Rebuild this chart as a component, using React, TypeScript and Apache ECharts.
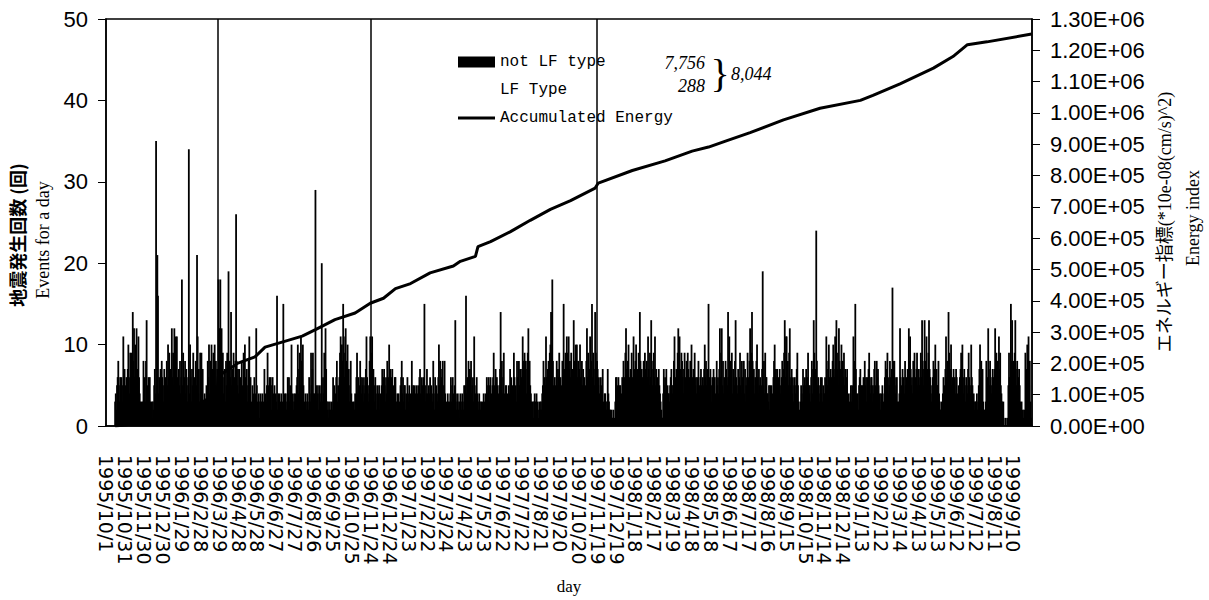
import React, { useEffect, useRef } from 'react';
import * as echarts from 'echarts';

// ---- categories: one per day from 1995/10/1 ----
const START_DATE = Date.UTC(1995, 9, 1);
const DAY_COUNT = 1470;
const dayCategories: string[] = Array.from({ length: DAY_COUNT }, (_, i) => {
  const d = new Date(START_DATE + i * 86400000);
  return `${d.getUTCFullYear()}/${d.getUTCMonth() + 1}/${d.getUTCDate()}`;
});

// ---- daily event counts (not LF type), 30 days per row ----
const notLfTypeCounts: number[] = [
  0,0,0,0,0,0,0,0,0,0,0,0,0,0,3,4,2,5,6,8,5,3,6,4,6,5,3,11,4,7,
  5,3,6,4,7,10,6,4,9,5,9,7,14,8,12,6,10,9,12,5,7,11,6,4,3,2,3,1,3,8,
  4,6,3,8,13,5,2,6,4,6,3,2,3,1,3,2,5,7,4,35,3,21,16,4,6,3,7,5,8,6,
  5,3,7,4,6,2,8,5,10,6,9,4,7,3,12,6,9,5,12,8,11,4,11,6,3,7,5,8,4,6,
  18,5,9,3,6,8,4,7,5,3,6,34,4,10,6,3,7,5,9,4,6,2,8,5,21,11,4,7,3,9,
  6,9,4,7,3,2,4,3,2,5,3,8,6,10,4,8,5,10,7,4,9,6,10,5,8,4,7,6,18,12,
  10,18,7,12,5,9,4,6,7,3,8,5,9,6,19,4,8,6,14,5,7,3,9,4,6,8,26,8,5,7,
  4,7,3,6,2,8,5,4,9,3,10,6,4,7,3,5,8,11,4,6,3,2,5,4,3,6,2,4,12,5,
  3,2,4,1,3,4,2,3,4,1,3,7,2,4,3,5,9,3,5,6,4,6,2,5,6,3,4,5,2,4,
  3,16,2,4,3,4,2,3,4,1,3,15,2,4,3,4,2,3,6,4,6,3,5,2,10,4,3,2,4,3,
  4,3,5,6,10,4,7,9,5,11,8,6,10,5,3,2,4,3,2,4,3,2,6,4,3,9,5,7,9,4,
  4,3,29,5,3,4,5,2,4,5,3,4,20,3,6,4,9,5,12,7,3,2,3,1,2,3,2,1,3,2,
  6,3,5,2,4,6,8,3,5,4,6,9,11,7,10,8,15,11,6,9,12,8,5,10,4,7,3,5,8,4,
  2,3,1,3,2,4,3,6,9,4,6,3,5,8,6,4,6,5,3,6,4,5,7,11,6,4,3,5,8,11,
  6,9,11,4,7,5,3,6,4,2,5,3,4,5,2,4,3,5,7,4,6,7,5,3,6,4,8,5,6,10,
  5,7,4,6,7,3,5,4,6,6,3,2,4,3,4,2,3,5,6,8,4,6,3,5,5,2,4,3,6,4,
  3,5,2,4,3,8,4,5,3,5,2,4,5,3,4,5,3,6,7,4,3,6,5,4,6,15,5,3,4,7,
  4,3,5,4,6,3,5,4,3,8,4,2,6,3,5,4,3,6,10,5,8,4,6,7,8,3,5,8,4,2,
  3,2,4,3,2,3,4,6,3,5,6,4,3,5,13,4,2,3,4,2,3,1,4,3,2,4,3,2,5,4,
  5,16,4,6,3,8,5,7,6,8,4,5,6,3,11,5,4,3,6,4,3,2,4,3,2,3,1,3,2,4,
  3,2,4,3,6,4,5,6,3,5,6,4,3,5,6,9,5,4,7,3,6,5,4,3,5,7,14,6,8,4,
  6,9,4,3,5,5,3,4,2,5,4,7,3,6,4,5,3,9,6,4,5,3,8,6,4,8,5,7,4,6,
  7,11,8,5,9,6,8,4,7,9,12,6,8,5,4,3,2,3,1,3,4,2,3,4,2,3,1,2,3,2,
  3,2,4,5,8,4,6,5,11,6,5,7,8,6,9,10,14,9,18,8,5,4,6,5,3,8,5,7,6,9,
  4,6,3,5,8,6,15,7,5,9,6,11,9,5,11,7,8,6,9,4,7,6,13,8,5,10,7,10,6,8,
  5,7,10,6,4,8,5,7,4,6,3,5,8,12,6,9,4,7,11,5,8,15,6,9,7,5,14,9,6,8,
  7,5,6,4,3,6,5,4,7,3,2,4,4,3,2,3,7,4,3,2,2,1,2,1,1,2,0,1,3,6,
  6,5,4,6,3,5,5,3,4,6,2,8,5,6,9,12,7,5,8,10,6,4,7,5,9,6,4,11,7,5,
  8,10,6,7,5,9,6,14,8,5,7,6,4,8,6,9,7,5,8,6,11,7,5,9,6,13,8,5,7,9,
  6,11,5,7,3,6,4,7,5,4,3,2,1,1,4,7,5,6,4,7,3,5,4,4,3,5,6,7,5,4,
  5,8,11,6,4,7,5,9,12,6,11,7,5,9,8,6,4,7,9,5,6,8,4,9,7,5,6,8,4,10,
  6,4,7,5,9,5,6,4,6,3,8,5,4,6,7,5,4,6,5,7,10,6,8,5,7,4,15,6,5,7,
  5,3,6,4,7,5,6,4,3,8,5,6,4,7,12,6,9,12,5,8,4,6,5,8,7,6,5,14,6,11,
  6,8,5,9,4,7,6,5,8,13,6,5,4,7,5,6,9,5,4,8,6,5,8,4,7,3,5,6,9,6,
  5,8,12,6,9,14,8,5,7,4,6,5,8,10,6,4,7,5,6,3,5,7,19,5,8,4,9,6,6,4,
  4,3,5,2,5,4,5,3,4,6,8,10,5,7,6,7,4,6,5,7,4,5,6,8,5,7,9,13,6,11,
  11,6,8,5,9,12,5,6,7,4,6,3,5,6,4,5,7,9,5,3,2,1,3,5,4,3,7,5,4,6,
  5,7,4,6,9,5,4,5,3,6,8,4,7,13,9,6,7,24,8,5,6,4,3,5,6,4,6,3,5,4,
  4,6,5,11,7,5,8,10,6,4,7,6,5,8,10,7,6,11,8,13,9,7,5,12,8,6,7,10,5,8,
  6,9,5,7,4,6,7,3,4,2,3,4,5,3,5,4,11,8,6,15,7,4,3,4,2,5,6,7,4,5,
  5,3,6,4,8,5,6,3,6,4,7,9,5,4,6,6,3,5,4,7,8,5,4,8,6,7,5,3,4,2,
  4,3,5,2,3,4,6,8,5,7,9,6,4,5,8,6,5,7,17,8,5,8,6,4,5,6,3,2,3,4,
  12,6,4,5,7,5,6,4,8,5,6,4,7,5,12,8,11,7,5,6,4,8,5,9,6,4,7,9,5,7,
  6,5,7,9,6,13,8,5,7,13,6,8,11,7,5,9,13,7,6,5,3,4,6,8,5,7,10,6,7,5,
  5,8,4,3,2,2,3,1,4,6,5,3,7,11,6,8,5,14,9,6,7,10,5,6,4,7,5,6,4,7,
  6,4,3,5,4,6,7,9,5,10,6,4,7,5,3,6,5,4,7,9,6,5,4,10,6,5,3,4,2,3,
  3,2,4,2,3,5,7,10,6,8,5,7,3,2,2,1,3,8,5,6,12,7,5,8,6,4,5,7,6,4,
  7,12,6,9,5,8,6,11,7,9,5,4,3,2,3,0,0,1,0,0,1,0,5,9,6,4,15,8,13,6,
  8,6,9,13,7,5,8,4,6,7,5,3,2,3,1,2,1,2,1,9,5,7,10,6,11,5,8,3,1,0,
];

// LF type: nothing visible in the picture
const lfTypeCounts: number[] = [];

// days marked with full-height vertical lines
const markedDays = ['1996/3/26', '1996/11/24', '1997/11/18'];

// accumulated energy, sampled along the curve (day index, value)
const energyDays = [14, 60, 100, 130, 160, 176, 178, 205, 208, 236, 252, 279, 311, 332, 363, 395, 419, 440, 459, 483, 514, 551, 562, 586, 590, 610, 641, 673, 705, 737, 776, 781, 835, 887, 930, 956, 983, 1022, 1075, 1133, 1197, 1217, 1260, 1313, 1344, 1367, 1398, 1469];
const energyValues = [0, 10000, 30000, 50000, 85000, 110000, 160000, 195000, 200000, 221000, 252000, 268000, 287000, 308000, 340000, 361000, 392000, 408000, 439000, 455000, 489000, 511000, 526000, 542000, 573000, 589000, 620000, 657000, 692000, 720000, 760000, 776000, 816000, 847000, 878000, 891000, 910000, 937000, 978000, 1015000, 1040000, 1056000, 1093000, 1143000, 1180000, 1218000, 1227000, 1252000];

const fmtSci = (v: number) => {
  if (v === 0) return '0.00E+00';
  const e = Math.floor(Math.log10(v) + 1e-9);
  const m = v / Math.pow(10, e);
  return `${m.toFixed(2)}E+${String(e).padStart(2, '0')}`;
};

export default function App() {
  const ref = useRef<HTMLDivElement>(null);
  useEffect(() => {
    if (!ref.current) return;
    const chart = echarts.init(ref.current, null, { renderer: 'svg' });
    const black = '#000';
    chart.setOption({
      animation: false,
      backgroundColor: '#fff',
      grid: { left: 106, right: 177, top: 19, bottom: 164, show: true, borderColor: black, borderWidth: 1.5 },
      legend: {
        orient: 'vertical',
        left: 453,
        top: 49,
        itemWidth: 37,
        itemHeight: 11,
        itemGap: 12,
        selectedMode: false,
        textStyle: { fontFamily: 'Liberation Mono', fontSize: 16, lineHeight: 16, color: black },
        data: [
          { name: 'not LF type', icon: 'rect' },
          { name: 'LF Type', icon: 'rect' },
          { name: 'Accumulated Energy', icon: 'path://M0,0 L37,0 L37,3 L0,3 Z' },
        ],
      },
      xAxis: {
        type: 'category',
        data: dayCategories,
        boundaryGap: true,
        name: 'day',
        nameLocation: 'middle',
        nameGap: 152,
        nameTextStyle: { fontFamily: 'Liberation Serif', fontSize: 17, color: black },
        axisLine: { lineStyle: { color: black, width: 1.5 } },
        axisTick: { interval: 9, length: 7, alignWithLabel: true, lineStyle: { color: black } },
        axisLabel: { interval: 29, rotate: -90, margin: 29, fontSize: 19, lineHeight: 17, fontFamily: 'DejaVu Sans', color: black, showMinLabel: true },
      },
      yAxis: [
        {
          type: 'value', min: 0, max: 50, interval: 10, position: 'left',
          axisLine: { show: true, lineStyle: { color: black, width: 1.5 } },
          axisTick: { show: true, length: 8, lineStyle: { color: black } },
          axisLabel: { fontSize: 22, fontFamily: 'Liberation Sans', color: black, margin: 18 },
          splitLine: { show: false },
        },
        {
          type: 'value', min: 0, max: 1300000, interval: 100000, position: 'right',
          axisLine: { show: true, lineStyle: { color: black, width: 1.5 } },
          axisTick: { show: true, length: 8, lineStyle: { color: black } },
          axisLabel: { fontSize: 22, fontFamily: 'Liberation Sans', color: black, margin: 18, formatter: fmtSci },
          splitLine: { show: false },
        },
      ],
      series: [
        {
          name: 'not LF type',
          type: 'bar',
          stack: 'events',
          barWidth: 1.8,
          itemStyle: { color: black },
          data: notLfTypeCounts,
          markLine: {
            silent: true,
            symbol: ['none', 'none'],
            label: { show: false },
            lineStyle: { color: black, width: 1.5, type: 'solid' },
            data: markedDays.map((d) => ({ xAxis: d })),
          },
        },
        {
          name: 'LF Type',
          type: 'bar',
          stack: 'events',
          barWidth: 1.8,
          itemStyle: { color: 'rgba(0,0,0,0)' },
          data: lfTypeCounts,
        },
        {
          name: 'Accumulated Energy',
          type: 'line',
          yAxisIndex: 1,
          symbol: 'none',
          lineStyle: { color: black, width: 3 },
          itemStyle: { color: black },
          data: energyDays.map((d, i) => [d, energyValues[i]]),
        },
      ],
      graphic: [
        { type: 'text', x: 17, y: 235, rotation: Math.PI / 2, style: { text: '地震発生回数 (回)', font: 'bold 18px "Noto Sans CJK JP"', fill: black, align: 'center', verticalAlign: 'middle' } },
        { type: 'text', x: 43, y: 240, rotation: Math.PI / 2, style: { text: 'Events for a day', font: '18px "Liberation Serif"', fill: black, align: 'center', verticalAlign: 'middle' } },
        { type: 'text', x: 1165, y: 222, rotation: Math.PI / 2, style: { text: 'エネルギー指標(*10e-08(cm/s)^2)', font: '18px "Liberation Serif", "Noto Sans CJK JP"', fill: black, align: 'center', verticalAlign: 'middle' } },
        { type: 'text', x: 1193, y: 218, rotation: Math.PI / 2, style: { text: 'Energy index', font: '18px "Liberation Serif"', fill: black, align: 'center', verticalAlign: 'middle' } },
        { type: 'text', x: 705, y: 63, style: { text: '7,756', font: 'italic 18px "Liberation Serif"', fill: black, align: 'right', verticalAlign: 'middle' } },
        { type: 'text', x: 705, y: 86, style: { text: '288', font: 'italic 18px "Liberation Serif"', fill: black, align: 'right', verticalAlign: 'middle' } },
        { type: 'text', x: 720, y: 73, style: { text: '}', font: '40px "Liberation Serif"', fill: black, align: 'center', verticalAlign: 'middle' } },
        { type: 'text', x: 731, y: 74, style: { text: '8,044', font: 'italic 18px "Liberation Serif"', fill: black, align: 'left', verticalAlign: 'middle' } },
      ],
    });
    return () => chart.dispose();
  }, []);
  return <div ref={ref} style={{ position: 'fixed', left: 0, top: 0, width: 1209, height: 600, background: '#fff' }} />;
}
